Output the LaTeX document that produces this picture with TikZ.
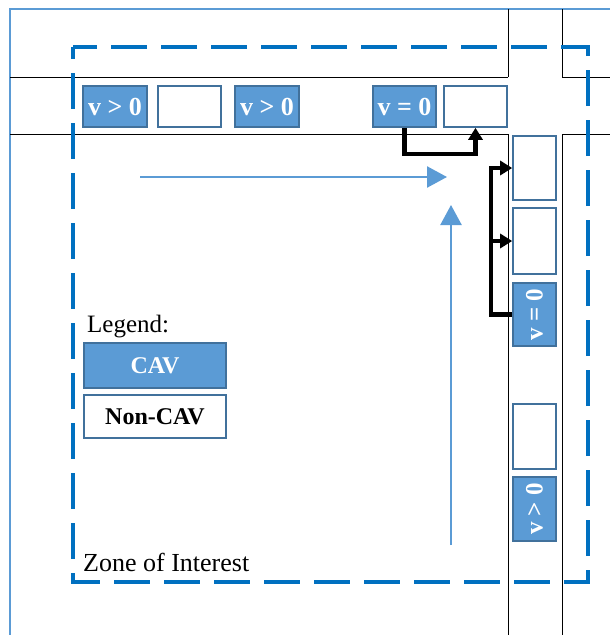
\documentclass[tikz,border=0pt]{standalone}
\usepackage{fontspec}
\setmainfont{Liberation Serif}
\usetikzlibrary{arrows.meta,calc}
\definecolor{cavfill}{HTML}{5B9BD5}
\definecolor{cavedge}{HTML}{41719C}
\definecolor{zoneblue}{HTML}{0070C0}
\definecolor{framebl}{HTML}{5B9BD5}
\tikzset{
  cav/.style={draw=cavedge, line width=1.6pt, fill=cavfill, text=white, font=\fontsize{26}{26}\selectfont\bfseries, inner sep=0pt, minimum height=41pt},
  noncav/.style={draw=cavedge, line width=1.6pt, fill=white, inner sep=0pt, minimum height=41pt},
  road/.style={draw=black, line width=0.9pt},
  flow/.style={draw=cavfill, line width=2.4pt, -{Triangle[length=20pt,width=21pt]}},
  link/.style={draw=black, line width=4.4pt, -{Triangle[length=12pt,width=14pt]}},
  rot/.style={rotate=90, font=\fontsize{25}{25}\selectfont\bfseries},
  lbl/.style={font=\fontsize{25}{25}\selectfont, inner sep=0pt}
}
\begin{document}
\begin{tikzpicture}[x=1pt,y=-1pt]
\useasboundingbox (0,0) rectangle (610,635);
% outer frame
\draw[framebl, line width=1.5pt] (10,635) -- (10,9) -- (610,9);
% roads
\draw[road] (10,77) -- (508,77) (562,77) -- (610,77);
\draw[road] (10,134) -- (508,134) (562,134) -- (610,134);
\draw[road] (508,9) -- (508,77) (562,9) -- (562,77);
\draw[road] (508,134) -- (508,635) (562,134) -- (562,635);
% zone of interest
\draw[zoneblue, line width=4pt, dash pattern=on 36pt off 14pt, dash phase=24pt] (73,47) rectangle (588,582);
% top row
\node[cav, minimum width=64pt] (c1) at (115,106.5) {v > 0};
\node[noncav, minimum width=63pt] (n1) at (189.5,106.5) {};
\node[cav, minimum width=64pt] (c2) at (267,106.5) {v > 0};
\node[cav, minimum width=63pt] (c3) at (404.5,106.5) {v = 0};
\node[noncav, minimum width=63pt] (n2) at (475.5,106.5) {};
% right column
\node[noncav, minimum width=43pt, minimum height=64pt] (n3) at (534.5,168) {};
\node[noncav, minimum width=43pt, minimum height=66pt] (n4) at (534.5,241) {};
\node[cav, rot, minimum width=63pt, minimum height=43pt] (c4) at (534.5,314.5) {v = 0};
\node[noncav, minimum width=43pt, minimum height=65pt] (n5) at (534.5,436.5) {};
\node[cav, rot, minimum width=64pt, minimum height=43pt] (c5) at (534.5,509) {v > 0};
% flow arrows
\coordinate (hs) at (140,177);
\coordinate (he) at (447,177);
\coordinate (vs) at (451,545);
\coordinate (ve) at (451,205);
\draw[flow] (hs) -- (he);
\draw[flow] (vs) -- (ve);
% links
\draw[link] (c3.south) -- ++(0,26) -| (n2.south);
\coordinate (j) at ($(c4.north)+(-21,0)$);
\draw[link] (c4.north) -- (j) |- (n3.west);
\draw[link] (j |- n4.west) -- (n4.west);
% legend
\node[lbl, anchor=base west] (leg) at (87,332) {Legend:};
\node[cav, minimum width=142pt, minimum height=45pt, font=\fontsize{24}{24}\selectfont\bfseries] (lc) at (155,365.5) {CAV};
\node[noncav, minimum width=142pt, minimum height=43pt, font=\fontsize{24}{24}\selectfont\bfseries] (ln) at (155,416.5) {Non-CAV};
\node[lbl, anchor=base west, font=\fontsize{26}{26}\selectfont] (zone) at (83,571) {Zone of Interest};
\end{tikzpicture}
\end{document}
